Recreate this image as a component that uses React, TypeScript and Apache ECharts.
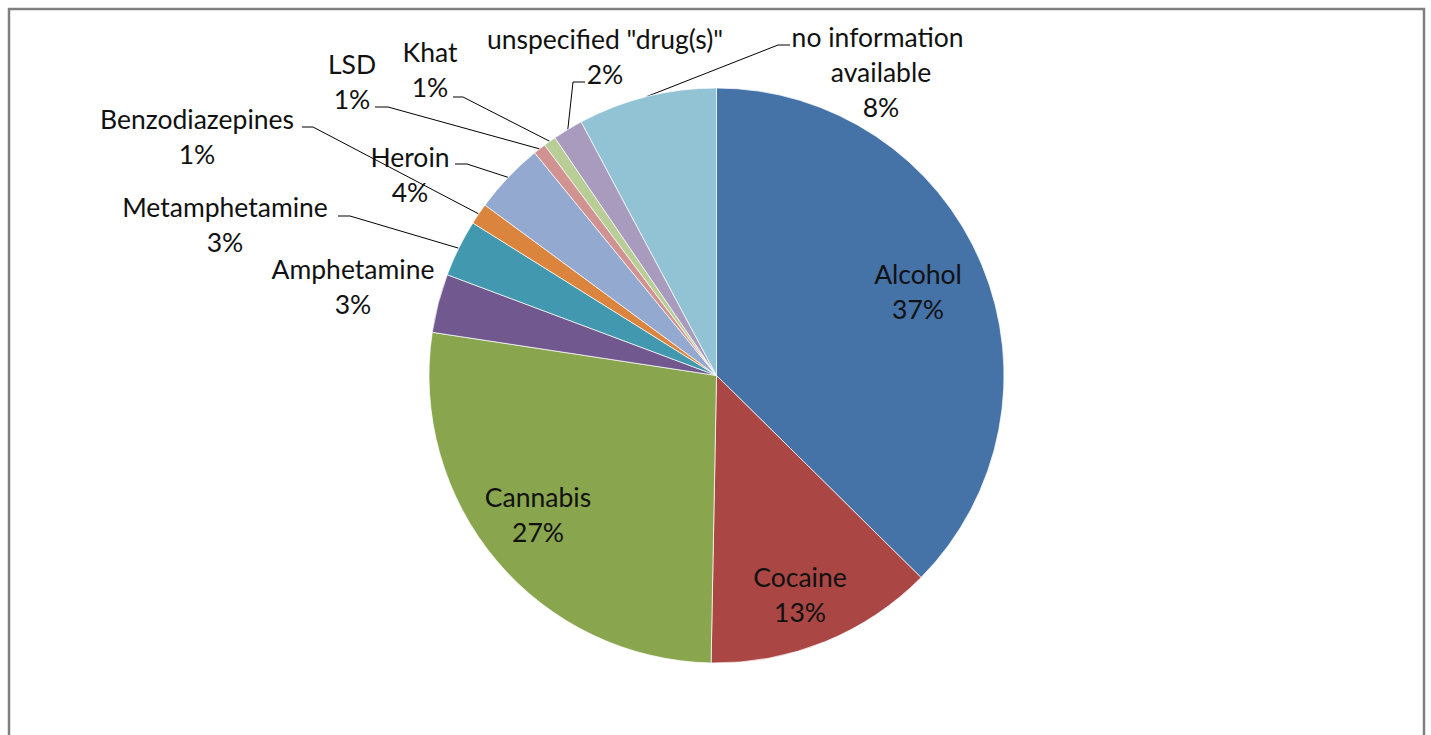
import React, { useEffect, useRef } from "react";
import * as echarts from "echarts";

// ---- data ----
const categories = [
  "Alcohol",
  "Cocaine",
  "Cannabis",
  "Amphetamine",
  "Metamphetamine",
  "Benzodiazepines",
  "Heroin",
  "LSD",
  "Khat",
  'unspecified "drug(s)"',
  "no information available",
];
const values = [37.4, 12.9, 27.1, 3.3, 3.2, 1.2, 4.0, 0.7, 0.7, 1.7, 7.8];
const colors = [
  "#4572A7",
  "#AA4643",
  "#89A54E",
  "#71588F",
  "#4198AF",
  "#DB843D",
  "#93A9CF",
  "#D19392",
  "#B9CD96",
  "#A99BBD",
  "#92C3D5",
];

// ---- layout (label block centers, leader anchor & elbow) ----
const insideLabels = [true, true, true, false, false, false, false, false, false, false, false];
const labelCenters: number[][] = [
  [918, 291],
  [800, 594],
  [538, 514],
  [353, 286],
  [225, 224],
  [197, 136],
  [410, 174],
  [352, 81],
  [430, 69],
  [605, 56],
  [881, 72],
];
const leaderAnchors: (number[][] | null)[] = [
  null,
  null,
  null,
  null,
  [[338, 216], [350, 216]],
  [[302, 127], [313, 127]],
  [[455, 164], [467, 164]],
  [[375, 107], [388, 107]],
  [[453, 97], [463, 97]],
  [[585, 82], [573, 82]],
  [[790, 45], [778, 45]],
];

const CX = 716.5;
const CY = 375.5;
const R = 287.5;

export default function App() {
  const ref = useRef<HTMLDivElement>(null);
  useEffect(() => {
    if (!ref.current) return;
    const chart = echarts.init(ref.current, undefined, { renderer: "svg" });
    const total = values.reduce((a, b) => a + b, 0);
    const midAngles: number[] = [];
    let acc = 0;
    values.forEach((v) => {
      const mid = ((acc + v / 2) / total) * Math.PI * 2;
      midAngles.push(mid);
      acc += v;
    });
    const rimPoint = (i: number) => [
      CX + R * Math.sin(midAngles[i]),
      CY - R * Math.cos(midAngles[i]),
    ];

    const data = categories.map((name, i) => ({
      name,
      value: values[i],
      itemStyle: { color: colors[i] },
      label: {
        position: insideLabels[i] ? "inside" : "outside",
        width: i === 10 ? 215 : undefined,
        overflow: i === 10 ? "break" : "none",
      },
      labelLine: { show: !!leaderAnchors[i] },
    }));

    chart.setOption({
      animation: false,
      backgroundColor: "#ffffff",
      graphic: [
        {
          type: "rect",
          shape: { x: 9, y: 9, width: 1415, height: 740 },
          style: { fill: "none", stroke: "#7f7f7f", lineWidth: 2.5 },
          silent: true,
        },
      ],
      series: [
        {
          type: "pie",
          center: [CX, CY],
          radius: [0, R],
          startAngle: 90,
          clockwise: true,
          avoidLabelOverlap: false,
          itemStyle: { borderColor: "#ffffff", borderWidth: 0.7 },
          label: {
            show: true,
            fontFamily: "Lato",
            fontSize: 26.5,
            lineHeight: 35,
            color: "#111111",
            align: "center",
            formatter: (p: any) => `${p.name}\n${Math.round(p.percent)}%`,
          },
          labelLine: {
            show: true,
            lineStyle: { color: "#000000", width: 1 },
          },
          labelLayout: (p: any) => {
            const i = p.dataIndex;
            const c = labelCenters[i];
            const res: any = {
              x: c[0],
              y: c[1],
              align: "center",
              verticalAlign: "middle",
            };
            const la = leaderAnchors[i];
            if (la) {
              res.labelLinePoints = [rimPoint(i), la[1], la[0]];
            }
            return res;
          },
          data,
        },
      ],
    });
    return () => chart.dispose();
  }, []);
  return (
    <div
      ref={ref}
      style={{ position: "fixed", left: 0, top: 0, width: 1431, height: 735 }}
    />
  );
}
